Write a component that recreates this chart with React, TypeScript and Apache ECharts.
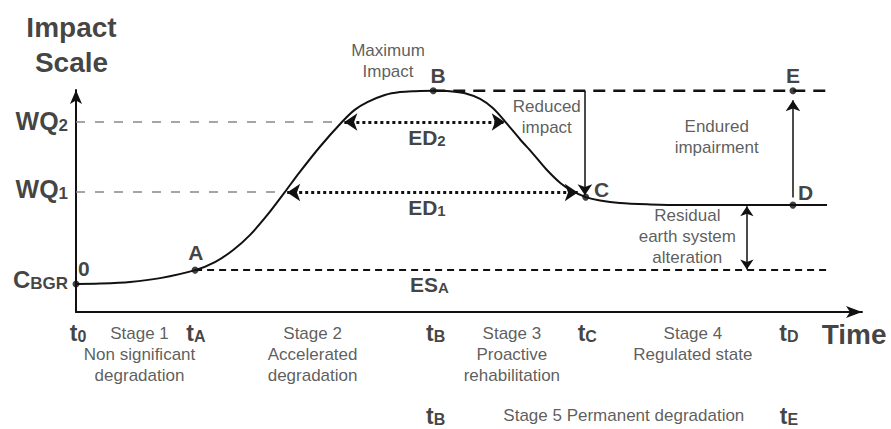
import React, { useEffect, useRef } from 'react';
import * as echarts from 'echarts';

const FONT = "'Liberation Sans', Arial, Helvetica, sans-serif";
const INK = '#111';
const GREY_TEXT = '#333';

// Impact curve (time units 0..99, impact units 0..97)
const curveTime = [0, 3, 6.8, 10.6, 15, 17.5, 19.8, 21.9, 24.1, 26.3, 28.2, 30.7, 33.5, 35.1, 36.7, 38.9, 40.8, 42.7, 45, 47.1, 49, 50.9, 52.5, 54, 55.9, 57.6, 59.2, 61, 62.5, 64.2, 66, 68.5, 72.3, 76.1, 90.3, 94.6];
const curveImpact = [12.2, 12.4, 13.1, 14.8, 18.3, 21.8, 27.1, 33.6, 42.4, 52.4, 61.2, 72.1, 83, 88.3, 91.7, 94.8, 96.1, 96.5, 96.7, 96.5, 95.6, 93.1, 89.1, 83.4, 75.6, 69, 62.5, 56.4, 52.9, 50.2, 48.7, 47.6, 47, 46.7, 46.7, 46.7];

// Key points
const pointNames = ['0', 'A', 'B', 'C', 'D', 'E'];
const pointTime = [0, 15, 45, 64.2, 90.3, 90.3];
const pointImpact = [12.2, 18.3, 96.7, 50.2, 46.7, 96.7];

// Reference levels
const levelWQ2 = 83;
const levelWQ1 = 52.4;
const levelESA = 18.3;
const levelMax = 96.7;
const levelResidual = 46.7;
const lineEnd = 94.6;

// Time ticks
const timeTickNames = ['0', 'A', 'B', 'C', 'D', 'B', 'E'];
const timeTickValues = [0.25, 15.1, 45.3, 64.4, 89.8, 45.3, 89.8];
const timeTickRow = [0, 0, 0, 0, 0, 1, 1];

// Stages
const stageTexts = [
  'Stage 1\nNon significant\ndegradation',
  'Stage 2\nAccelerated\ndegradation',
  'Stage 3\nProactive\nrehabilitation',
  'Stage 4\nRegulated state',
  'Stage 5 Permanent degradation',
];
const stageCenters = [8.0, 29.8, 54.9, 77.7, 69.0];
const stageRows = [0, 0, 0, 0, 1];

const RICH: any = {
  big: { fontSize: 21, fontWeight: 'bold', color: INK, fontFamily: FONT },
  sub: { fontSize: 15, fontWeight: 'bold', color: INK, fontFamily: FONT, verticalAlign: 'bottom' },
  wq: { fontSize: 25, fontWeight: 'bold', color: INK, fontFamily: FONT },
  wqs: { fontSize: 17, fontWeight: 'bold', color: INK, fontFamily: FONT, verticalAlign: 'bottom' },
  c: { fontSize: 24, fontWeight: 'bold', color: INK, fontFamily: FONT },
  cs: { fontSize: 17, fontWeight: 'bold', color: INK, fontFamily: FONT, verticalAlign: 'bottom' },
  t: { fontSize: 23, fontWeight: 'bold', color: INK, fontFamily: FONT },
  ts: { fontSize: 16, fontWeight: 'bold', color: INK, fontFamily: FONT, verticalAlign: 'bottom' },
};

function lbl(x: number, y: number, text: string, extra: any = {}) {
  return {
    value: [x, y],
    label: { formatter: text, ...extra },
  };
}

const boldBig = { fontSize: 21, fontWeight: 'bold', color: INK };
const normal = { fontSize: 17, color: GREY_TEXT, lineHeight: 21 };

const annotations: any[] = [
  lbl(-0.57, 116.8, 'Impact\nScale', { fontSize: 28, fontWeight: 'bold', lineHeight: 35, color: INK }),
  lbl(98.0, -10.0, 'Time', { fontSize: 28, fontWeight: 'bold', color: INK }),
  lbl(-1.0, levelWQ2 + 0.4, '{wq|WQ}{wqs|2}', { align: 'right' }),
  lbl(-1.0, levelWQ1 + 1.2, '{wq|WQ}{wqs|1}', { align: 'right' }),
  lbl(-1.0, 14.0, '{c|C}{cs|BGR}', { align: 'right' }),
  lbl(1.0, 19.2, pointNames[0], boldBig),
  lbl(15.1, 26.2, pointNames[1], boldBig),
  lbl(45.6, 103.5, pointNames[2], boldBig),
  lbl(66.2, 53.7, pointNames[3], boldBig),
  lbl(91.9, 52.4, pointNames[4], boldBig),
  lbl(90.3, 103.5, pointNames[5], boldBig),
  lbl(44.2, 76.3, '{big|ED}{sub|2}'),
  lbl(44.2, 45.7, '{big|ED}{sub|1}'),
  lbl(44.5, 12.2, '{big|ES}{sub|A}'),
  lbl(39.3, 109.6, 'Maximum\nImpact', normal),
  lbl(59.3, 85.2, 'Reduced\nimpact', normal),
  lbl(80.7, 76.4, 'Endured\nimpairment', normal),
  lbl(77.0, 32.8, 'Residual\nearth system\nalteration', normal),
];

timeTickNames.forEach((n, i) => {
  annotations.push(lbl(timeTickValues[i], timeTickRow[i] === 0 ? -9.2 : -45.4, `{t|t}{ts|${n}}`));
});
stageTexts.forEach((s, i) => {
  const lines = s.split('\n').length;
  const firstLineY = stageRows[i] === 0 ? -9.2 : -45.4;
  const y = firstLineY - ((lines - 1) * 21) / 2 / 2.289;
  annotations.push(lbl(stageCenters[i], y, s, normal));
});

function seg(x1: number, y1: number, x2: number, y2: number) {
  return [[x1, y1], [x2, y2]];
}

const option: any = {
  animation: false,
  backgroundColor: '#fff',
  grid: { left: 76, right: 29, top: 90, bottom: 117 },
  xAxis: {
    type: 'value',
    min: 0,
    max: 99,
    axisLine: { show: true, symbol: ['none', 'arrow'], symbolSize: [9, 16], lineStyle: { color: INK, width: 2 } },
    axisTick: { show: false },
    axisLabel: { show: false },
    splitLine: { show: false },
  },
  yAxis: {
    type: 'value',
    min: 0,
    max: 97,
    axisLine: { show: true, symbol: ['none', 'arrow'], symbolSize: [9, 14], lineStyle: { color: INK, width: 2 } },
    axisTick: { show: false },
    axisLabel: { show: false },
    splitLine: { show: false },
  },
  series: [
    {
      type: 'line', silent: true, symbol: 'none',
      data: seg(0, levelWQ2, 33.5, levelWQ2),
      lineStyle: { color: '#888', width: 1.5, type: [9, 10] },
    },
    {
      type: 'line', silent: true, symbol: 'none',
      data: seg(0, levelWQ1, 26.3, levelWQ1),
      lineStyle: { color: '#888', width: 1.5, type: [9, 10] },
    },
    {
      type: 'line', silent: true, symbol: 'none',
      data: seg(pointTime[1], levelESA, lineEnd, levelESA),
      lineStyle: { color: INK, width: 2, type: [7, 5] },
    },
    {
      type: 'line', silent: true, symbol: 'none',
      data: seg(pointTime[2], levelMax, lineEnd, levelMax),
      lineStyle: { color: INK, width: 2.5, type: [12, 8] },
    },
    {
      type: 'line', silent: true, symbol: 'none', smooth: 0.3,
      data: curveTime.map((t, i) => [t, curveImpact[i]]),
      lineStyle: { color: INK, width: 2 },
      z: 5,
    },
    {
      type: 'lines', coordinateSystem: 'cartesian2d', silent: true, clip: false, polyline: false,
      symbol: ['arrow', 'arrow'], symbolSize: 13,
      lineStyle: { color: INK, width: 3, type: [3, 3], opacity: 1, curveness: 0 },
      data: [
        { coords: seg(33.8, levelWQ2, 54, levelWQ2) },
        { coords: seg(26.6, levelWQ1 - 0.2, 63.2, levelWQ1 - 0.2) },
      ],
      z: 6,
    },
    {
      type: 'lines', coordinateSystem: 'cartesian2d', silent: true, clip: false, polyline: false,
      symbol: ['none', 'arrow'], symbolSize: 11,
      lineStyle: { color: INK, width: 1.5, opacity: 1, curveness: 0 },
      data: [
        { coords: seg(64.1, levelMax, 64.1, 51) },
        { coords: seg(90.3, 50, 90.3, 92.5) },
      ],
      z: 6,
    },
    {
      type: 'lines', coordinateSystem: 'cartesian2d', silent: true, clip: false, polyline: false,
      symbol: ['arrow', 'arrow'], symbolSize: 10,
      lineStyle: { color: INK, width: 1.5, opacity: 1, curveness: 0 },
      data: [{ coords: seg(84.5, levelResidual - 0.5, 84.5, levelESA + 0.3) }],
      z: 6,
    },
    {
      type: 'scatter', silent: true, clip: false, symbolSize: 7,
      itemStyle: { color: INK },
      data: pointTime.map((t, i) => [t, pointImpact[i]]),
      z: 8,
    },
    {
      type: 'scatter', silent: true, clip: false, symbolSize: 0,
      itemStyle: { color: 'transparent' },
      label: { show: true, position: 'inside', fontFamily: FONT, color: INK, rich: RICH },
      data: annotations,
      z: 10,
    },
  ],
};

export default function App() {
  const ref = useRef<HTMLDivElement>(null);
  useEffect(() => {
    const chart = echarts.init(ref.current as HTMLDivElement, null, { renderer: 'svg' });
    chart.setOption(option);
    return () => chart.dispose();
  }, []);
  return (
    <div
      ref={ref}
      style={{ position: 'absolute', left: 0, top: 0, width: 891, height: 429, background: '#fff' }}
    />
  );
}
